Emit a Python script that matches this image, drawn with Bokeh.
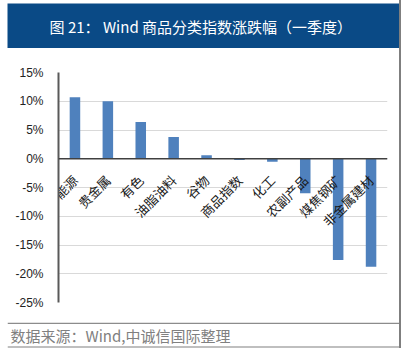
import math
from bokeh.plotting import figure
from bokeh.models import (ColumnDataSource, FactorRange, Range1d, FixedTicker,
                          NumeralTickFormatter, Span, Spacer)
from bokeh.layouts import column, row
from bokeh.core.properties import value
from bokeh.embed import file_html
from bokeh.resources import INLINE

title_text = "图 21：  Wind 商品分类指数涨跌幅（一季度）"
source_text = "数据来源：Wind,中诚信国际整理"
categories = ["能源", "贵金属", "有色", "油脂油料", "谷物", "商品指数",
              "化工", "农副产品", "煤焦钢矿", "非金属建材"]
changes = [0.107, 0.100, 0.064, 0.038, 0.006, -0.002, -0.005, -0.060, -0.176, -0.188]
y_ticks = [-0.25, -0.20, -0.15, -0.10, -0.05, 0.0, 0.05, 0.10, 0.15]

BLUE = "#0a4a86"
CJK = "Noto Sans CJK SC"
W = 392

# --- title bar ---
fa = figure(width=W, height=45, x_range=Range1d(0, W), y_range=Range1d(0, 45),
            toolbar_location=None, output_backend="svg", min_border=0,
            x_axis_location=None, y_axis_location=None)
fa.grid.visible = False
fa.outline_line_color = None
fa.background_fill_color = BLUE
fa.border_fill_color = BLUE
fa.text(x=[195], y=[22.5], text=[title_text], text_align="center", text_baseline="middle",
        text_color="white", text_font=value(CJK), text_font_size="15px")

# --- chart ---
src = ColumnDataSource(dict(cat=categories, val=changes, zero=[0.0] * len(categories)))
fb = figure(width=W, height=274, x_range=FactorRange(*categories),
            y_range=Range1d(y_ticks[0], y_ticks[-1]),
            toolbar_location=None, output_backend="svg",
            min_border_left=51, min_border_right=12, min_border_top=24, min_border_bottom=20)
fb.outline_line_color = None
fb.xaxis.visible = False
fb.xgrid.visible = False
fb.ygrid.grid_line_color = "#d9d9d9"
fb.ygrid.grid_line_width = 1
fb.yaxis.ticker = FixedTicker(ticks=y_ticks)
fb.yaxis.formatter = NumeralTickFormatter(format="0%")
fb.yaxis.major_tick_line_color = None
fb.yaxis.minor_tick_line_color = None
fb.yaxis.axis_line_color = "#595959"
fb.yaxis.axis_line_width = 2
fb.yaxis.major_label_text_font = "Liberation Sans"
fb.yaxis.major_label_text_font_size = "12px"
fb.yaxis.major_label_text_color = "#222222"
fb.yaxis.major_label_standoff = 9

fb.vbar(x="cat", top="val", bottom="zero", width=0.32, source=src,
        fill_color="#4f81bd", line_color=None)
fb.add_layout(Span(location=0, dimension="width", line_color="#404040", line_width=1.5))
fb.text(x="cat", y="zero", text="cat", source=src, angle=math.pi / 4,
        text_align="right", text_baseline="middle", x_offset=0, y_offset=19,
        text_font=value(CJK), text_font_size="13px", text_color="#1a1a1a")

# --- source footer ---
fc = figure(width=W, height=26, x_range=Range1d(0, W), y_range=Range1d(0, 26),
            toolbar_location=None, output_backend="svg", min_border=0,
            x_axis_location=None, y_axis_location=None)
fc.grid.visible = False
fc.outline_line_color = None
fc.add_layout(Span(location=25.3, dimension="width", line_color="#8c8c8c", line_width=1.5))
fc.add_layout(Span(location=1.5, dimension="width", line_color="#bfbfbf", line_width=2))
fc.text(x=[3], y=[13], text=[source_text], text_align="left", text_baseline="middle",
        text_color="#808080", text_font=value(CJK), text_font_size="15px")

edge = Spacer(width=2, height=348, styles={"background-color": "#7f7f7f"})
layout = row(Spacer(width=7, height=348),
             column(Spacer(width=W, height=3), row(fa), fb, row(fc)),
             edge)

open("out.html", "w").write(file_html(layout, INLINE))
